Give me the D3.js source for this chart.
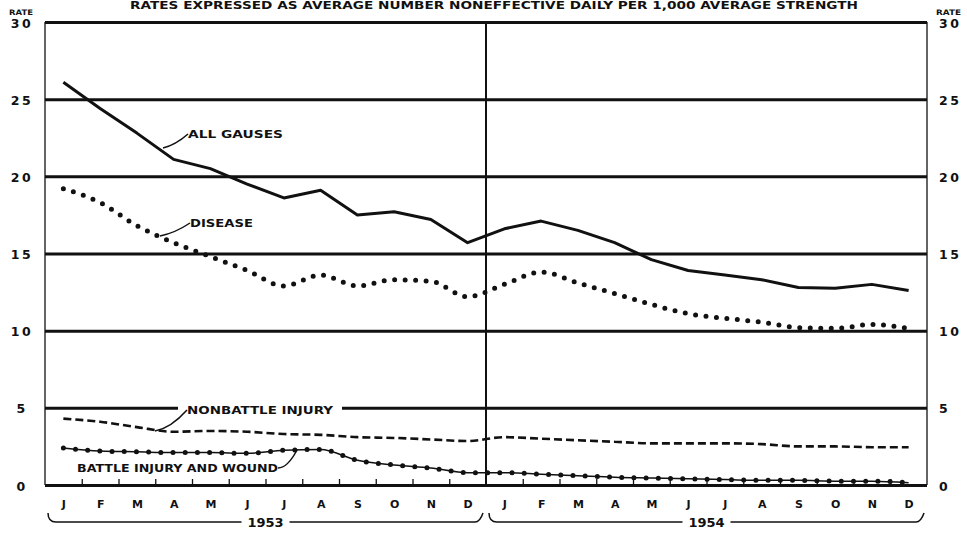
<!DOCTYPE html>
<html>
<head>
<meta charset="utf-8">
<script src="https://cdn.jsdelivr.net/npm/d3@7"></script>
<style>
  body { margin: 0; background: #fff; }
  text { font-family: "DejaVu Sans", sans-serif; font-weight: bold; fill: #111; }
</style>
</head>
<body>
<div id="chart"></div>
<script>
var monthLabels = ["J","F","M","A","M","J","J","A","S","O","N","D"];
var yearLabels = ["1953","1954"];
var rateTicks = [0,5,10,15,20,25,30];
// monthly rates, Jan 1953 .. Dec 1954
var allCauses = [26.1,24.4,22.8,21.1,20.5,19.5,18.6,19.1,17.5,17.7,17.2,15.7,
                 16.6,17.1,16.5,15.7,14.6,13.9,13.6,13.3,12.8,12.75,13.0,12.6];
var disease = [19.2,18.3,16.8,15.7,14.8,13.9,12.9,13.6,12.9,13.3,13.2,12.2,
               13.0,13.8,13.1,12.4,11.7,11.1,10.8,10.55,10.2,10.15,10.4,10.15];
var nonbattle = [4.3,4.1,3.75,3.45,3.5,3.45,3.3,3.25,3.1,3.05,2.95,2.85,
                 3.1,3.0,2.9,2.8,2.7,2.7,2.7,2.65,2.5,2.5,2.45,2.45];
var battle = [2.4,2.2,2.15,2.1,2.1,2.05,2.25,2.3,1.6,1.3,1.1,0.8,
              0.8,0.7,0.6,0.5,0.45,0.4,0.35,0.3,0.3,0.25,0.25,0.15];

var margin = {top: 22, right: 40, bottom: 48, left: 45},
    width = 967,
    height = 533,
    width_g = width - margin.left - margin.right,
    height_g = height - margin.top - margin.bottom;

var x = d3.scaleLinear().domain([-0.5, 23.5]).range([0, width_g]);
var y = d3.scaleLinear().domain([0, 30]).range([height_g, 0]);

var svg = d3.select("#chart").append("svg")
    .attr("width", width)
    .attr("height", height);

// title
svg.append("text")
    .attr("x", 130).attr("y", 9)
    .attr("font-size", 10)
    .attr("textLength", 728).attr("lengthAdjust", "spacingAndGlyphs")
    .text("RATES EXPRESSED AS AVERAGE NUMBER NONEFFECTIVE DAILY PER 1,000 AVERAGE STRENGTH");

svg.append("text").attr("x", 9).attr("y", 15).attr("font-size", 7.5)
    .attr("textLength", 24).attr("lengthAdjust", "spacingAndGlyphs").text("RATE");
svg.append("text").attr("x", 936).attr("y", 15).attr("font-size", 7.5)
    .attr("textLength", 25).attr("lengthAdjust", "spacingAndGlyphs").text("RATE");

var frg = svg.append("g")
    .attr("transform", "translate(" + margin.left + "," + margin.top + ")");

// frame
frg.append("line").attr("x1", 0).attr("x2", 0).attr("y1", 0).attr("y2", height_g)
    .attr("stroke", "#111").attr("stroke-width", 1.3);
frg.append("line").attr("x1", width_g).attr("x2", width_g).attr("y1", 0).attr("y2", height_g)
    .attr("stroke", "#111").attr("stroke-width", 1.3);
frg.append("line").attr("x1", x(11.5)).attr("x2", x(11.5)).attr("y1", 0).attr("y2", height_g)
    .attr("stroke", "#111").attr("stroke-width", 2);

// gridlines
var grid = frg.append("g")
    .call(d3.axisLeft(y).tickValues(rateTicks).tickSize(-width_g).tickFormat(""));
grid.select(".domain").remove();
grid.selectAll("line").attr("stroke", "#111").attr("stroke-width", 3);

// month boundary ticks
var bticks = frg.append("g")
    .attr("transform", "translate(0," + height_g + ")")
    .call(d3.axisBottom(x).tickValues(d3.range(23).filter(function(i){ return i != 11; })
        .map(function(i){ return i + 0.5; })).tickSize(-6).tickFormat(""));
bticks.select(".domain").remove();
bticks.selectAll("line").attr("stroke", "#111").attr("stroke-width", 1.3);

// y labels both sides
var yl = frg.append("g")
    .attr("transform", "translate(-23,1)")
    .call(d3.axisLeft(y).tickValues(rateTicks).tickSize(0));
yl.select(".domain").remove();
yl.selectAll("text").attr("x", 0).attr("text-anchor", "middle").attr("font-size", 12.5)
    .attr("letter-spacing", 2.5).attr("font-family", null);
var yr = frg.append("g")
    .attr("transform", "translate(" + (width_g + 12) + ",1)")
    .call(d3.axisRight(y).tickValues(rateTicks).tickSize(0));
yr.select(".domain").remove();
yr.selectAll("text").attr("x", 0).attr("text-anchor", "start").attr("font-size", 12.5)
    .attr("letter-spacing", 2.5).attr("font-family", null);

// month labels
var xl = frg.append("g")
    .attr("transform", "translate(0," + height_g + ")")
    .call(d3.axisBottom(x).tickValues(d3.range(24)).tickSize(0)
        .tickFormat(function(i){ return monthLabels[i % 12]; }));
xl.select(".domain").remove();
xl.selectAll("text").attr("y", 15).attr("dy", "0.71em").attr("font-size", 11).attr("font-family", null);

// year braces
yearLabels.forEach(function(yr_, k) {
    var x0 = x(k * 12 - 0.5) + 3, x1 = x(k * 12 + 11.5) - 3,
        xm = (x0 + x1) / 2, by = height_g + 37;
    frg.append("path")
        .attr("d", "M" + x0 + "," + (by - 9) + " Q" + x0 + "," + by + " " + (x0 + 8) + "," + by +
            " L" + (xm - 24) + "," + by + " M" + (xm + 24) + "," + by +
            " L" + (x1 - 8) + "," + by + " Q" + (x1 - 3) + "," + by + " " + x1 + "," + (by - 9))
        .attr("fill", "none").attr("stroke", "#111").attr("stroke-width", 1.5);
    frg.append("text")
        .attr("x", xm).attr("y", by + 5)
        .attr("text-anchor", "middle").attr("font-size", 13)
        .text(yr_);
});

var line = d3.line()
    .x(function(d, i){ return x(i); })
    .y(function(d){ return y(d); });
var smooth = d3.line()
    .x(function(d, i){ return x(i); })
    .y(function(d){ return y(d); })
    .curve(d3.curveMonotoneX);

frg.append("path").datum(allCauses).attr("d", line)
    .attr("fill", "none").attr("stroke", "#111").attr("stroke-width", 3)
    .attr("stroke-linejoin", "round");
frg.append("path").datum(disease).attr("d", smooth)
    .attr("fill", "none").attr("stroke", "#111").attr("stroke-width", 5)
    .attr("stroke-linecap", "round").attr("stroke-dasharray", "0,10.5");
frg.append("path").datum(nonbattle).attr("d", smooth)
    .attr("fill", "none").attr("stroke", "#111").attr("stroke-width", 2.6)
    .attr("stroke-dasharray", "8,4");
frg.append("path").datum(battle).attr("d", smooth)
    .attr("fill", "none").attr("stroke", "#111").attr("stroke-width", 1.5);
frg.append("path").datum(battle).attr("d", smooth)
    .attr("fill", "none").attr("stroke", "#111").attr("stroke-width", 5)
    .attr("stroke-linecap", "round").attr("stroke-dasharray", "0,12.2");

// labels with leaders
var labels = [
    {t: "ALL GAUSES", x: 143, y: 116, w: 95, lx: 118, ly: 126},
    {t: "DISEASE", x: 145, y: 205, w: 63, lx: 115, ly: 214},
    {t: "NONBATTLE INJURY", x: 142, y: 392, w: 146, lx: 110, ly: 409, gap: [133, 297]},
    {t: "BATTLE INJURY AND WOUND", x: 32, y: 450, w: 201, lx: 252, ly: 428, right: true}
];
labels.forEach(function(l) {
    if (l.gap) {
        frg.append("rect").attr("x", l.gap[0]).attr("y", y(5) - 3)
            .attr("width", l.gap[1] - l.gap[0]).attr("height", 6).attr("fill", "#fff");
    }
    var sx = l.right ? l.x + l.w : l.x, sy = l.y - 4;
    frg.append("path")
        .attr("d", "M" + l.lx + "," + l.ly + " Q" + ((l.lx + sx) / 2) + "," + (l.right ? sy : l.ly - 3) + " " + sx + "," + sy)
        .attr("fill", "none").attr("stroke", "#111").attr("stroke-width", 1.5);
    frg.append("text")
        .attr("x", l.x).attr("y", l.y).attr("font-size", 11)
        .attr("textLength", l.w).attr("lengthAdjust", "spacingAndGlyphs")
        .text(l.t);
});
</script>
</body>
</html>
